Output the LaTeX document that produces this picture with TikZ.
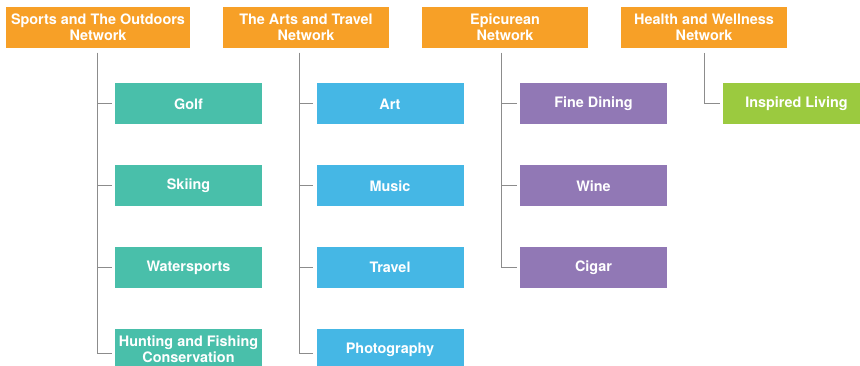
\documentclass[tikz,border=0pt]{standalone}
\usepackage{fontspec}
\setmainfont{TeX Gyre Heros}
\definecolor{netorange}{HTML}{F7A027}
\definecolor{sportteal}{HTML}{49BFAA}
\definecolor{artblue}{HTML}{45B7E5}
\definecolor{epipurple}{HTML}{9178B5}
\definecolor{healthgreen}{HTML}{9BCA3F}
\definecolor{linkgray}{HTML}{8C8C8C}
\begin{document}
\begin{tikzpicture}[x=1pt, y=-1pt,
        font=\fontsize{14.4}{16}\selectfont\bfseries,
        blk/.style={inner sep=0pt, align=center, text=white, minimum height=41pt},
        net/.style={blk, fill=netorange},
        sub/.style={blk, minimum width=147pt},
        sport/.style={sub, fill=sportteal},
        art/.style={sub, fill=artblue},
        epi/.style={sub, fill=epipurple},
        health/.style={sub, fill=healthgreen},
        link/.style={draw=linkgray, line width=1pt}]

    \useasboundingbox (0,0) rectangle (860,366);

    % ---------- network headers ----------
    \node[net, minimum width=184pt] (sports) at (98,27.5) {Sports and The Outdoors\\Network};
    \node[net, minimum width=166pt] (arts) at (306,27.5) {The Arts and Travel\\Network};
    \node[net, minimum width=166pt] (epicure) at (505,27.5) {Epicurean\\Network};
    \node[net, minimum width=166pt] (wellness) at (704,27.5) {Health and Wellness\\Network};

    \coordinate (sportsTop) at (97,53);
    \coordinate (artsTop) at (299,53);
    \coordinate (epicureTop) at (501,53);
    \coordinate (wellnessTop) at (704,53);

    % ---------- channels ----------
    \node[sport] (golf) at (188.5,104) {Golf};
    \node[sport] (skiing) at (188.5,186) {Skiing};
    \node[sport] (water) at (188.5,267.5) {Watersports};
    \node[sport] (hunt) at (188.5,349.5) {Hunting and Fishing\\Conservation};

    \node[art] (art) at (390,104) {Art};
    \node[art] (music) at (390,186) {Music};
    \node[art] (travel) at (390,267.5) {Travel};
    \node[art] (photo) at (390,349.5) {Photography};

    \node[epi] (dining) at (593.5,104) {Fine Dining};
    \node[epi] (wine) at (593.5,186) {Wine};
    \node[epi] (cigar) at (593.5,267.5) {Cigar};

    \node[health] (living) at (796.5,104) {Inspired Living};

    % ---------- tree lines ----------
    \draw[link] (sportsTop) |- ([xshift=-3pt]golf.west);
    \draw[link] (sportsTop) |- ([xshift=-3pt]skiing.west);
    \draw[link] (sportsTop) |- ([xshift=-3pt]water.west);
    \draw[link] (sportsTop) |- ([xshift=-3pt, yshift=-3.5pt]hunt.west);

    \draw[link] (artsTop) |- ([xshift=-3pt]art.west);
    \draw[link] (artsTop) |- ([xshift=-3pt]music.west);
    \draw[link] (artsTop) |- ([xshift=-3pt]travel.west);
    \draw[link] (artsTop) |- ([xshift=-3pt, yshift=-3.5pt]photo.west);

    \draw[link] (epicureTop) |- ([xshift=-3pt]dining.west);
    \draw[link] (epicureTop) |- ([xshift=-3pt]wine.west);
    \draw[link] (epicureTop) |- ([xshift=-3pt]cigar.west);

    \draw[link] (wellnessTop) |- ([xshift=-3pt]living.west);
\end{tikzpicture}
\end{document}
